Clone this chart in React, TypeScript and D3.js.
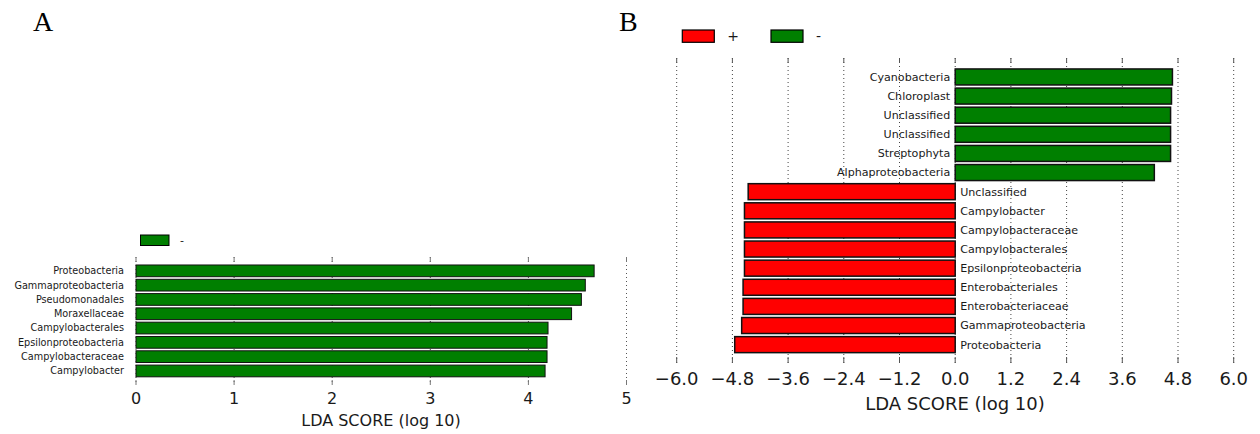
import React from "react";
import * as d3 from "d3";

// Panel A: features enriched in the "-" group
const aTaxa = [
  "Proteobacteria",
  "Gammaproteobacteria",
  "Pseudomonadales",
  "Moraxellaceae",
  "Campylobacterales",
  "Epsilonproteobacteria",
  "Campylobacteraceae",
  "Campylobacter",
];
const aScores = [4.67, 4.58, 4.54, 4.44, 4.2, 4.19, 4.19, 4.17];
const aTicks = [0, 1, 2, 3, 4, 5];

// Panel B: signed LDA scores (negative = "+" group, positive = "-" group)
const bTaxa = [
  "Cyanobacteria",
  "Chloroplast",
  "Unclassified",
  "Unclassified",
  "Streptophyta",
  "Alphaproteobacteria",
  "Unclassified",
  "Campylobacter",
  "Campylobacteraceae",
  "Campylobacterales",
  "Epsilonproteobacteria",
  "Enterobacteriales",
  "Enterobacteriaceae",
  "Gammaproteobacteria",
  "Proteobacteria",
];
const bScores = [
  4.68, 4.66, 4.64, 4.64, 4.64, 4.29,
  -4.46, -4.54, -4.54, -4.54, -4.54, -4.57, -4.57, -4.6, -4.75,
];
const bTicks = [-6.0, -4.8, -3.6, -2.4, -1.2, 0.0, 1.2, 2.4, 3.6, 4.8, 6.0];

const legendItems = ["+", "-"];

const GREEN = "#007f00";
const RED = "#ff0000";
const FONT = "'DejaVu Sans', sans-serif";
const TEXT = "#1a1a1a";

const fmtB = (v: number) => (v < 0 ? "\u2212" : "") + Math.abs(v).toFixed(1);

function PanelA() {
  const x = d3.scaleLinear().domain([0, 5]).range([136, 626.5]);
  const y = d3
    .scaleBand<number>()
    .domain(aTaxa.map((_, i) => i))
    .range([263.7, 378.1])
    .paddingInner(0.18)
    .paddingOuter(0.09);
  const gridTop = 257;
  const gridBot = 385;
  return (
    <g>
      <text x={33} y={31} fontFamily="'Liberation Serif', serif" fontSize={28} fill="#000">
        A
      </text>
      {/* legend */}
      <rect x={140.5} y={235} width={28.5} height={10.5} fill={GREEN} stroke="#000" strokeWidth={1} />
      <text x={180} y={244} fontFamily={FONT} fontSize={11} fill={TEXT}>
        -
      </text>
      {/* grid */}
      {aTicks.map((t) => (
        <g key={t}>
          <line x1={x(t)} x2={x(t)} y1={gridTop} y2={gridBot} stroke="#555" strokeWidth={1} strokeDasharray="1,3" />
          <line x1={x(t)} x2={x(t)} y1={gridTop} y2={gridTop + 5} stroke="#777" strokeWidth={1} />
          <line x1={x(t)} x2={x(t)} y1={gridBot - 5} y2={gridBot} stroke="#777" strokeWidth={1} />
          <text x={x(t)} y={404} textAnchor="middle" fontFamily={FONT} fontSize={16} fill={TEXT}>
            {t}
          </text>
        </g>
      ))}
      {/* bars */}
      {aScores.map((v, i) => (
        <g key={i}>
          <rect
            x={x(0)}
            y={y(i)!}
            width={x(v) - x(0)}
            height={y.bandwidth()}
            fill={GREEN}
            stroke="#111"
            strokeWidth={1}
          />
          <text
            x={124}
            y={y(i)! + y.bandwidth() / 2}
            dy="0.35em"
            textAnchor="end"
            fontFamily={FONT}
            fontSize={9.7}
            fill={TEXT}
          >
            {aTaxa[i]}
          </text>
        </g>
      ))}
      <text x={381} y={426} textAnchor="middle" fontFamily={FONT} fontSize={16} fill={TEXT}>
        LDA SCORE (log 10)
      </text>
    </g>
  );
}

function PanelB() {
  const x = d3.scaleLinear().domain([-6, 6]).range([676.7, 1233.7]);
  const y = d3
    .scaleBand<number>()
    .domain(bTaxa.map((_, i) => i))
    .range([67.4, 354.2])
    .paddingInner(0.163)
    .paddingOuter(0.0815);
  const gridTop = 58;
  const gridBot = 363;
  const legendX = [682.3, 771];
  return (
    <g>
      <text x={619} y={31} fontFamily="'Liberation Serif', serif" fontSize={28} fill="#000">
        B
      </text>
      {/* legend */}
      {legendItems.map((lab, i) => (
        <g key={lab}>
          <rect
            x={legendX[i]}
            y={30}
            width={32}
            height={12.3}
            fill={lab === "+" ? RED : GREEN}
            stroke="#000"
            strokeWidth={1.2}
          />
          <text x={legendX[i] + 45} y={41} fontFamily={FONT} fontSize={14} fill={TEXT}>
            {lab}
          </text>
        </g>
      ))}
      {/* grid */}
      {bTicks.map((t) => (
        <g key={t}>
          <line x1={x(t)} x2={x(t)} y1={gridTop} y2={gridBot} stroke="#444" strokeWidth={1} strokeDasharray="1,3" />
          <line x1={x(t)} x2={x(t)} y1={gridTop} y2={gridTop + 5} stroke="#555" strokeWidth={1} />
          <line x1={x(t)} x2={x(t)} y1={gridBot - 6} y2={gridBot} stroke="#555" strokeWidth={1} />
          <text x={x(t)} y={385} textAnchor="middle" fontFamily={FONT} fontSize={18} fill={TEXT}>
            {fmtB(t)}
          </text>
        </g>
      ))}
      {/* bars */}
      {bScores.map((v, i) => {
        const x0 = Math.min(x(0), x(v));
        const w = Math.abs(x(v) - x(0));
        const pos = v > 0;
        return (
          <g key={i}>
            <rect
              x={x0}
              y={y(i)!}
              width={w}
              height={y.bandwidth()}
              fill={pos ? GREEN : RED}
              stroke="#111"
              strokeWidth={1.5}
            />
            <text
              x={pos ? x(0) - 5 : x(0) + 5}
              y={y(i)! + y.bandwidth() / 2}
              dy="0.35em"
              textAnchor={pos ? "end" : "start"}
              fontFamily={FONT}
              fontSize={11.1}
              fill={TEXT}
            >
              {bTaxa[i]}
            </text>
          </g>
        );
      })}
      <text x={955} y={410} textAnchor="middle" fontFamily={FONT} fontSize={18} fill={TEXT}>
        LDA SCORE (log 10)
      </text>
    </g>
  );
}

export default function App() {
  return (
    <svg
      width={1260}
      height={434}
      viewBox="0 0 1260 434"
      style={{ position: "absolute", left: 0, top: 0, background: "#fff" }}
    >
      <rect width={1260} height={434} fill="#fff" />
      <PanelA />
      <PanelB />
    </svg>
  );
}
